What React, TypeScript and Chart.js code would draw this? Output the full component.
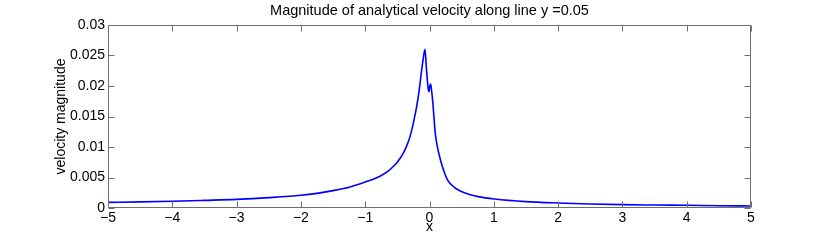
import React, { useEffect, useRef } from "react";
import { Chart, registerables } from "chart.js";

Chart.register(...registerables);

const TITLE = "Magnitude of analytical velocity along line y =0.05";
const X_LABEL = "x";
const Y_LABEL = "velocity magnitude";

const xTicks = [-5, -4, -3, -2, -1, 0, 1, 2, 3, 4, 5];
const xTickLabels = ["\u22125", "\u22124", "\u22123", "\u22122", "\u22121", "0", "1", "2", "3", "4", "5"];
const yTicks = [0, 0.005, 0.01, 0.015, 0.02, 0.025, 0.03];
const yTickLabels = ["0", "0.005", "0.01", "0.015", "0.02", "0.025", "0.03"];

const xs = [
  -5, -4.5, -4, -3.5, -3, -2.5, -2, -1.75, -1.5, -1.25, -1, -0.77, -0.65, -0.563, -0.48,
  -0.407, -0.35, -0.303, -0.26, -0.226, -0.2, -0.174, -0.15, -0.132, -0.1, -0.07, -0.05,
  -0.02, -0.008, 0.005, 0.018, 0.035, 0.05, 0.07, 0.09, 0.12, 0.158, 0.2, 0.236, 0.28,
  0.34, 0.41, 0.495, 0.62, 0.754, 1.01, 1.5, 2, 2.5, 3, 3.5, 4, 4.5, 5,
];
const velocity = [
  0.00093, 0.001, 0.0011, 0.00125, 0.00142, 0.0017, 0.00208, 0.0024, 0.00285, 0.0034,
  0.00425, 0.0052, 0.006, 0.0068, 0.0078, 0.009, 0.0103, 0.0117, 0.0135, 0.0152, 0.0166,
  0.0183, 0.0202, 0.0218, 0.0243, 0.026, 0.0232, 0.0195, 0.0191, 0.02, 0.0203, 0.019,
  0.0175, 0.0148, 0.0122, 0.0102, 0.0084, 0.0068, 0.0057, 0.0046, 0.0038, 0.0032, 0.0027,
  0.0022, 0.00186, 0.00148, 0.00105, 0.00082, 0.00066, 0.00055, 0.00049, 0.00044, 0.00038,
  0.00033,
];

const FONT = "'Liberation Sans', Helvetica, Arial, sans-serif";
const AXIS_COLOR = "#6e6e6e";

const framePlugin = {
  id: "matlabFrame",
  afterDatasetsDraw(chart: any) {
    const { ctx, chartArea } = chart;
    const { left, right, top, bottom } = chartArea;
    const xs_ = chart.scales.x;
    const ys_ = chart.scales.y;
    const tl = 6;
    ctx.save();
    ctx.strokeStyle = AXIS_COLOR;
    ctx.lineWidth = 1;
    const L = Math.round(left) + 0.5;
    const R = Math.round(right) - 0.5;
    const T = Math.round(top) + 0.5;
    const B = Math.round(bottom) - 0.5;
    ctx.beginPath();
    ctx.rect(L, T, R - L, B - T);
    ctx.stroke();
    ctx.beginPath();
    xTicks.forEach((v) => {
      const px = Math.round(xs_.getPixelForValue(v)) + 0.5;
      ctx.moveTo(px, B);
      ctx.lineTo(px, B - tl);
      ctx.moveTo(px, T);
      ctx.lineTo(px, T + tl);
    });
    yTicks.forEach((v) => {
      const py = Math.round(ys_.getPixelForValue(v)) + 0.5;
      ctx.moveTo(L, py);
      ctx.lineTo(L + tl, py);
      ctx.moveTo(R, py);
      ctx.lineTo(R - tl, py);
    });
    ctx.stroke();
    ctx.fillStyle = "#000";
    ctx.font = `14.5px ${FONT}`;
    ctx.textAlign = "center";
    ctx.textBaseline = "middle";
    ctx.fillText(TITLE, (left + right) / 2, 10.5);
    ctx.restore();
  },
};

export default function App() {
  const ref = useRef<HTMLCanvasElement | null>(null);

  useEffect(() => {
    if (!ref.current) return;
    const chart = new Chart(ref.current, {
      type: "line",
      data: {
        datasets: [
          {
            data: xs.map((x, i) => ({ x, y: velocity[i] })),
            borderColor: "#0000ff",
            borderWidth: 1.6,
            pointRadius: 0,
            cubicInterpolationMode: "monotone",
            fill: false,
          },
        ],
      },
      options: {
        responsive: false,
        animation: false,
        layout: { padding: { left: 0, right: 79, top: 25, bottom: 0 } },
        plugins: {
          legend: { display: false },
          tooltip: { enabled: false },
          title: { display: false },
        },
        scales: {
          x: {
            type: "linear",
            min: -5,
            max: 5,
            grid: { display: false, drawTicks: false },
            border: { display: false },
            afterBuildTicks: (s: any) => {
              s.ticks = xTicks.map((v) => ({ value: v }));
            },
            afterFit: (s: any) => {
              s.height = 32;
            },
            ticks: {
              autoSkip: false,
              maxRotation: 0,
              padding: 2,
              color: "#000",
              font: { family: FONT, size: 14 },
              callback: (v: any) => {
                const i = xTicks.indexOf(Number(v));
                return i >= 0 ? xTickLabels[i] : "";
              },
            },
            title: {
              display: true,
              text: X_LABEL,
              color: "#000",
              font: { family: FONT, size: 14 },
              padding: { top: 0, bottom: 4 },
            },
          },
          y: {
            type: "linear",
            min: 0,
            max: 0.03,
            grid: { display: false, drawTicks: false },
            border: { display: false },
            afterBuildTicks: (s: any) => {
              s.ticks = yTicks.map((v) => ({ value: v }));
            },
            afterFit: (s: any) => {
              s.width = 108;
            },
            ticks: {
              autoSkip: false,
              padding: 3,
              color: "#000",
              font: { family: FONT, size: 14 },
              callback: (v: any) => {
                const i = yTicks.findIndex((t) => Math.abs(t - Number(v)) < 1e-9);
                return i >= 0 ? yTickLabels[i] : "";
              },
            },
            title: {
              display: true,
              text: Y_LABEL,
              color: "#000",
              font: { family: FONT, size: 14 },
              padding: { top: 53, bottom: 0 },
            },
          },
        },
      },
      plugins: [framePlugin],
    });
    return () => chart.destroy();
  }, []);

  return (
    <div style={{ position: "absolute", left: 0, top: 0, width: 830, height: 240, background: "#fff" }}>
      <canvas ref={ref} width={830} height={240} style={{ display: "block" }} />
    </div>
  );
}
